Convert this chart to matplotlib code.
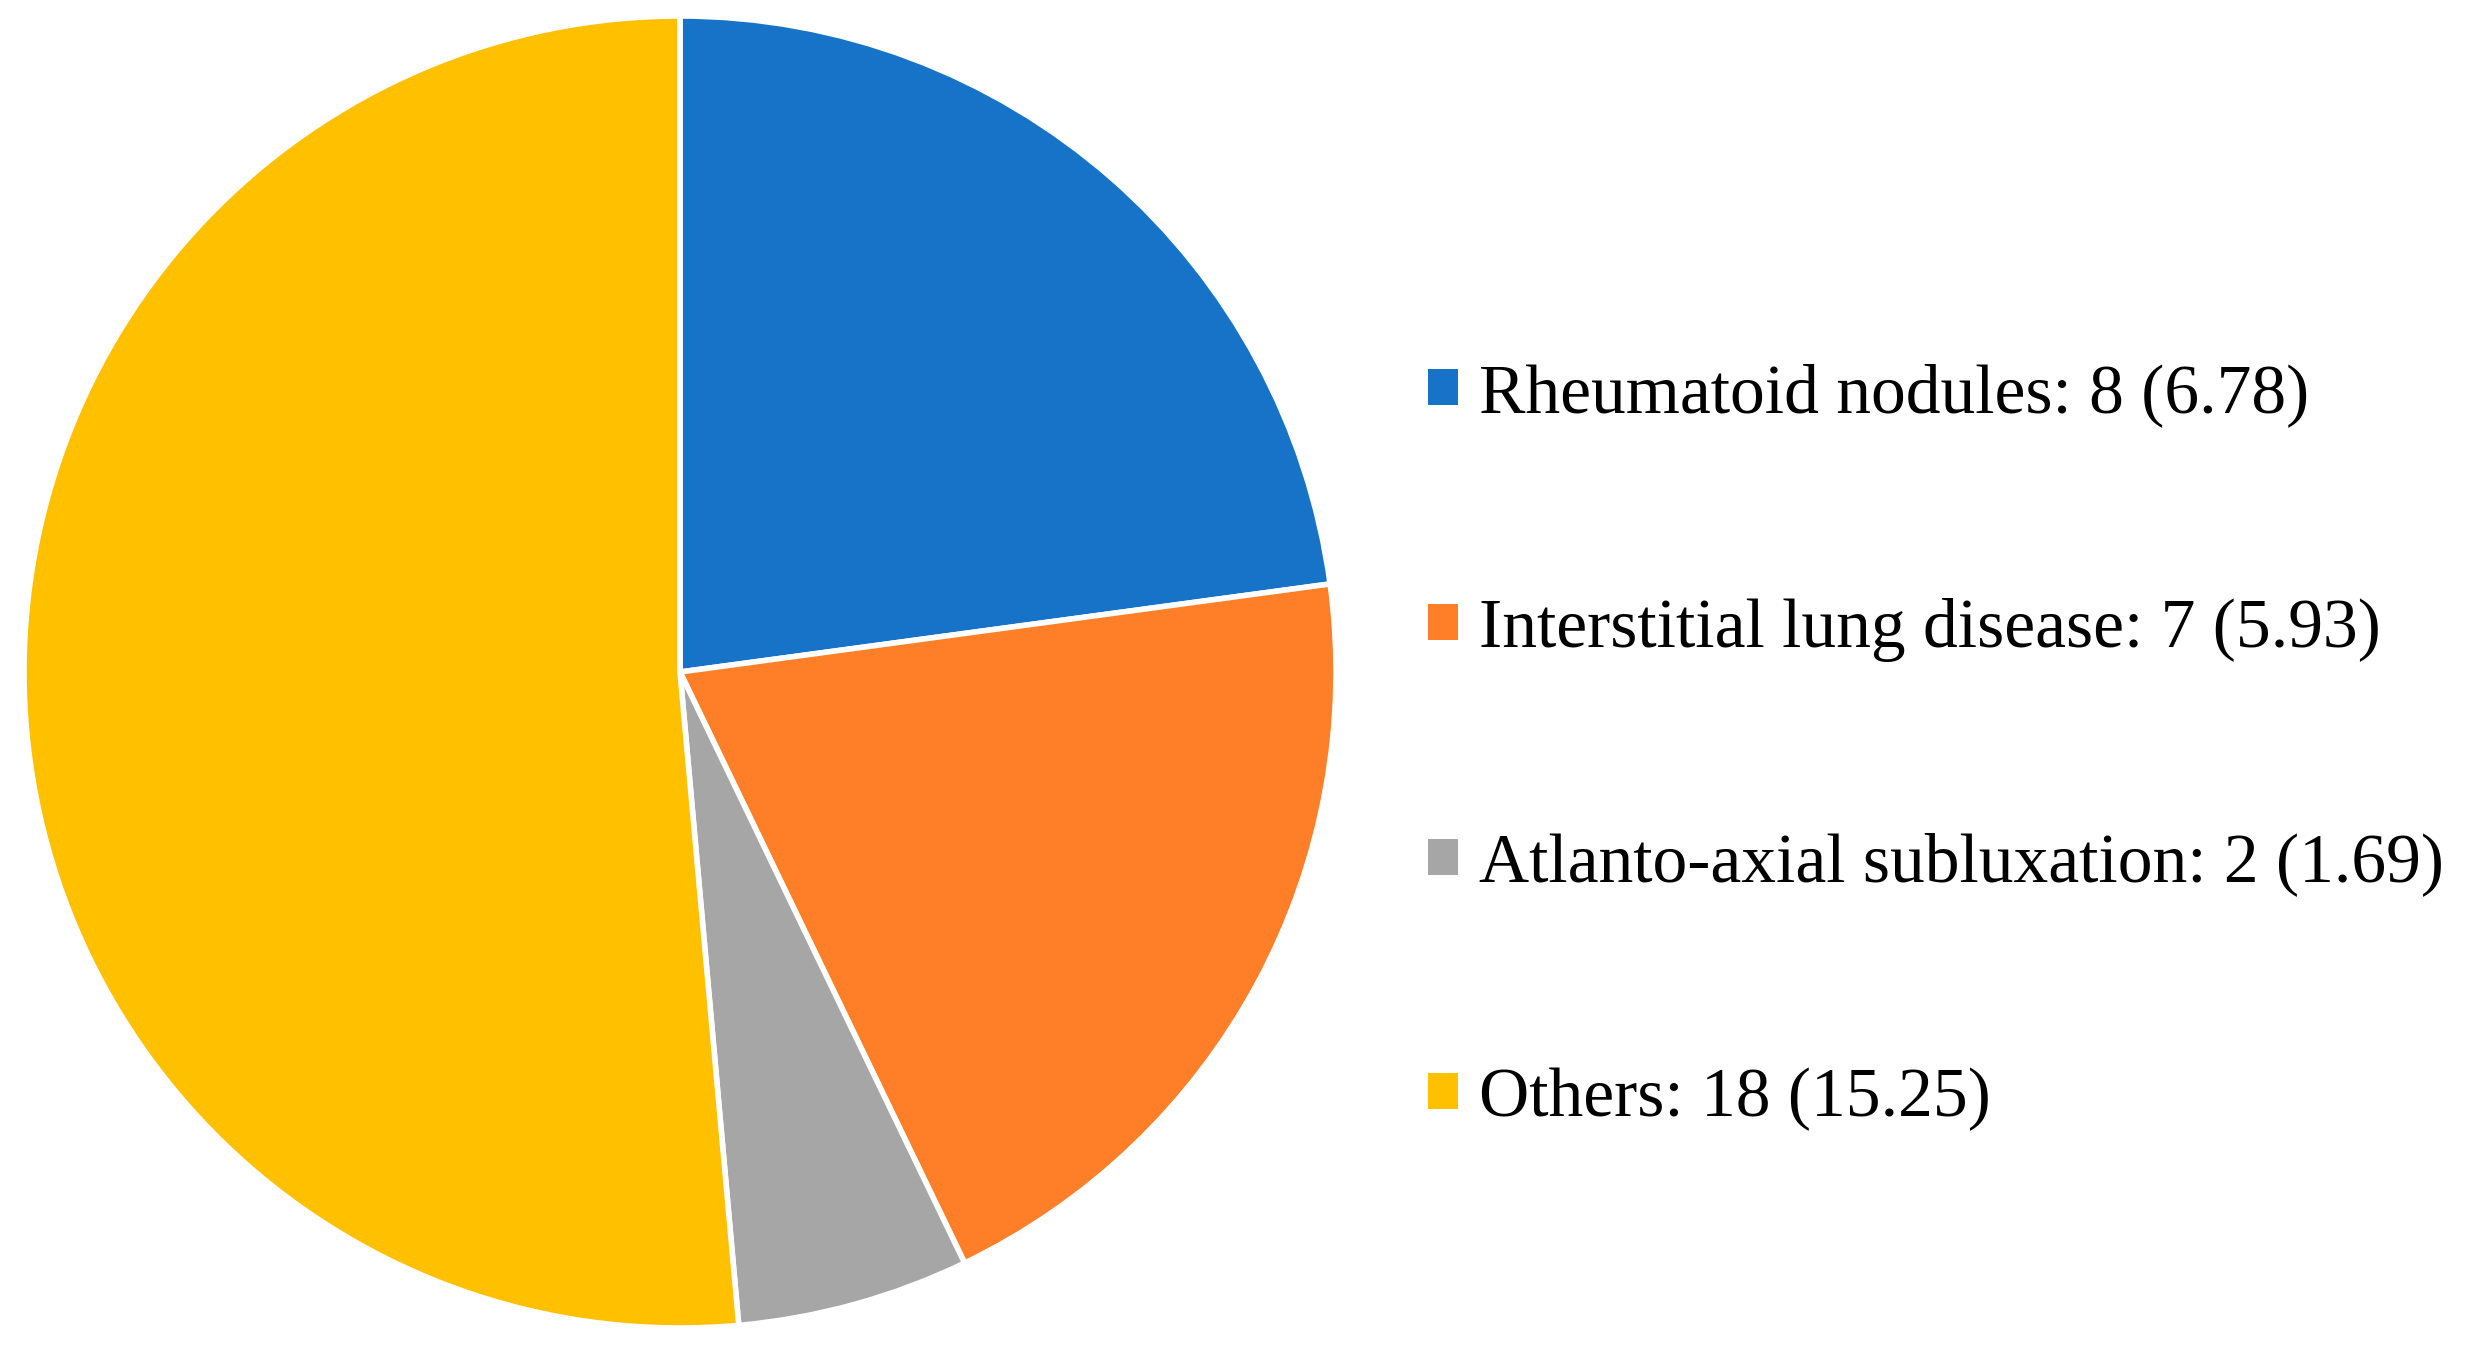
import matplotlib
matplotlib.use('Agg')
import matplotlib.pyplot as plt

labels = ['Rheumatoid nodules', 'Interstitial lung disease', 'Atlanto-axial subluxation', 'Others']
counts = [8, 7, 2, 18]
percents = ['6.78', '5.93', '1.69', '15.25']
colors = ['#1773C8', '#FE7F27', '#A6A6A6', '#FFC000']

W, H = 2491, 1349
fig = plt.figure(figsize=(W / 100, H / 100), dpi=100)

# pie centre ~ (680, 672) px, radius ~656 px
cx, cy, r = 680, 672, 656
ax = fig.add_axes([(cx - r) / W, (H - cy - r) / H, 2 * r / W, 2 * r / H])
wedges, _ = ax.pie(counts, colors=colors, startangle=90, counterclock=False,
                   wedgeprops=dict(edgecolor='white', linewidth=4))
ax.set_xlim(-1, 1)
ax.set_ylim(-1, 1)
ax.set_aspect('equal')

leg_labels = [f'{l}: {c} ({p})' for l, c, p in zip(labels, counts, percents)]
leg = fig.legend(wedges, leg_labels, loc='center left',
                 bbox_to_anchor=(1428 / W, 1 - 747 / H),
                 frameon=False, borderpad=0, borderaxespad=0,
                 handlelength=0.43, handleheight=0.43,
                 handletextpad=0.3, labelspacing=2.46,
                 prop=dict(family='Liberation Serif', size=50))
for h in leg.legend_handles:
    h.set_linewidth(0)

fig.savefig('out.png', dpi=100)
